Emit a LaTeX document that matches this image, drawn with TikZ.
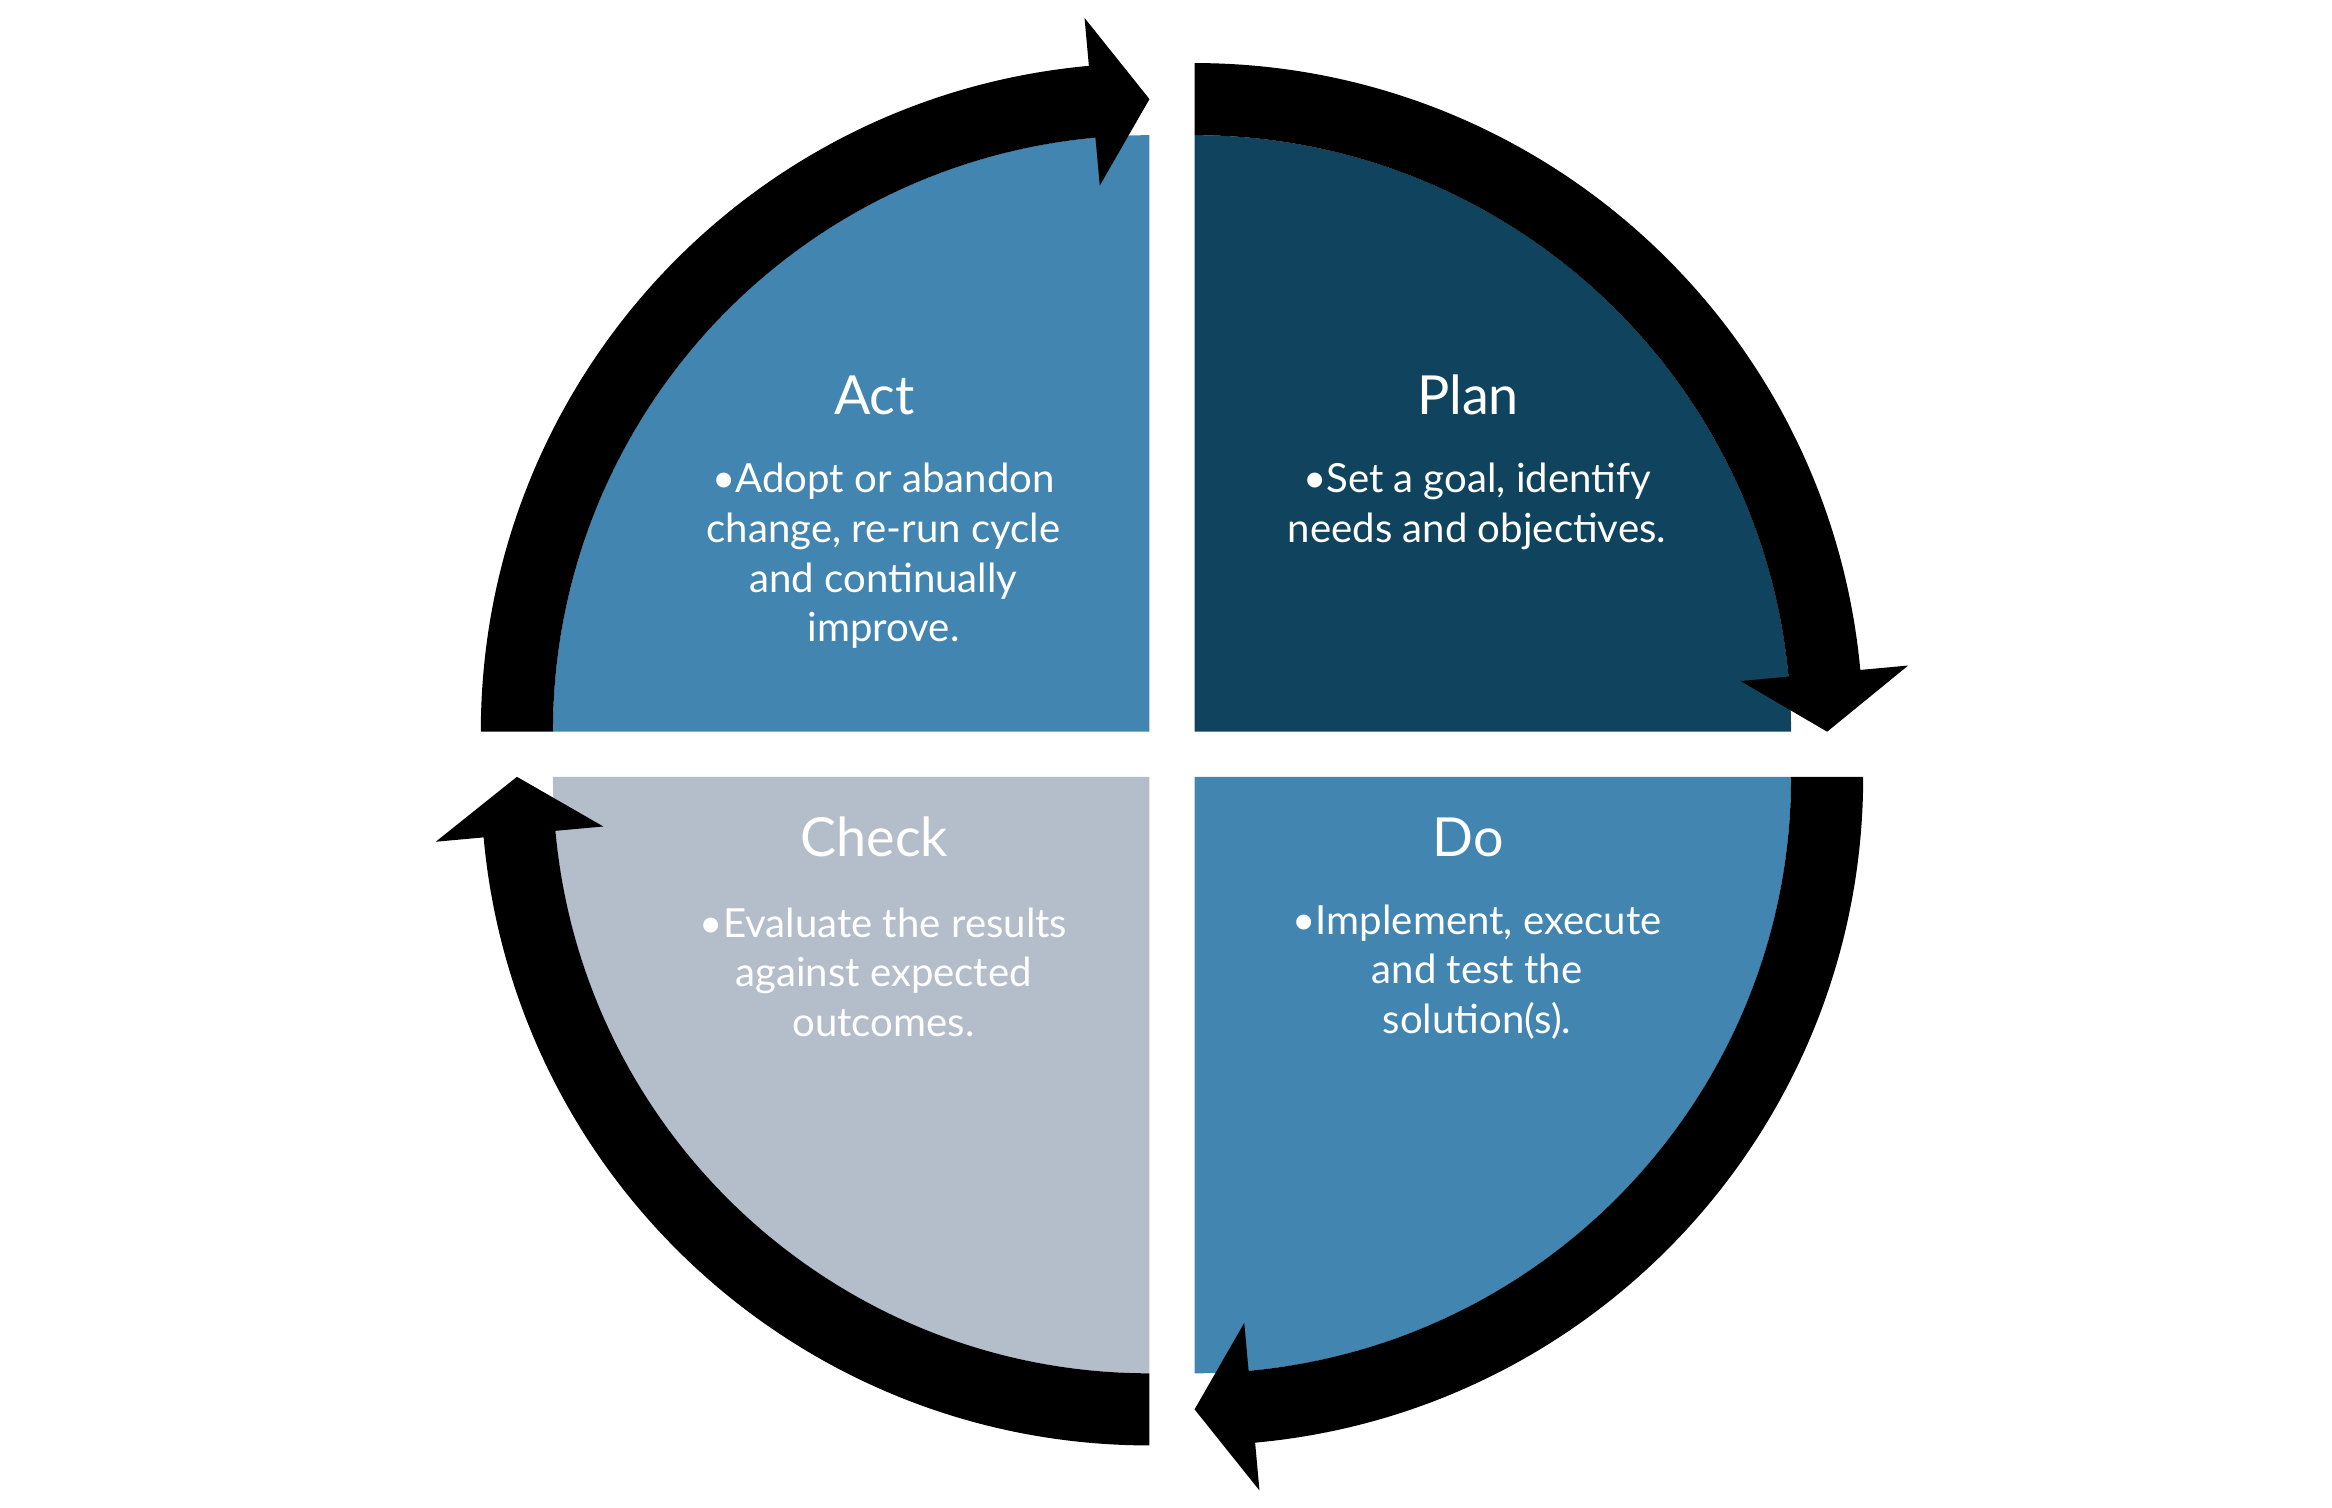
\documentclass[tikz,border=0pt]{standalone}
\usepackage{fontspec}
\setmainfont{Lato}
\usetikzlibrary{positioning}

\definecolor{plancol}{HTML}{10445E}
\definecolor{actcol}{HTML}{4285B0}
\definecolor{checkcol}{HTML}{B3BECA}

\tikzset{
  title/.style={text=white, font=\fontsize{10.2}{12}\selectfont},
  body/.style={text=white, align=center, font=\fontsize{7.6}{9.4}\selectfont},
  cyc/.style={fill=black}
}

\begin{document}
\begin{tikzpicture}

    \useasboundingbox (0,0) rectangle (15.52,10.03);

    % Corners of the four quarters
    \coordinate (P) at (7.95,5.16);
    \coordinate (A) at (7.65,5.16);
    \coordinate (D) at (7.95,4.86);
    \coordinate (C) at (7.65,4.86);

    % Quarters
    \fill[plancol] (P) -- ++(0,3.97) arc (90:0:3.97) -- cycle;
    \fill[actcol] (A) -- ++(-3.97,0) arc (180:90:3.97) -- cycle;
    \fill[actcol] (D) -- ++(3.97,0) arc (0:-90:3.97) -- cycle;
    \fill[checkcol] (C) -- ++(0,-3.97) arc (270:180:3.97) -- cycle;

    % Cycle arrows
    \fill[cyc, shift={(P)}] (90:4.45) arc (90:5.3:4.45) -- (5.3:4.77) -- (0:4.21)
        -- (5.3:3.65) -- (5.3:3.97) arc (5.3:90:3.97) -- cycle;
    \fill[cyc, shift={(D)}] (0:4.45) arc (0:-84.8:4.45) -- (-84.8:4.77) -- (-90:4.21)
        -- (-84.8:3.65) -- (-84.8:3.97) arc (-84.8:0:3.97) -- cycle;
    \fill[cyc, shift={(C)}] (-90:4.45) arc (-90:-174.8:4.45) -- (-174.8:4.77) -- (180:4.21)
        -- (-174.8:3.65) -- (-174.8:3.97) arc (-174.8:-90:3.97) -- cycle;
    \fill[cyc, shift={(A)}] (180:4.45) arc (180:95.2:4.45) -- (95.2:4.77) -- (90:4.21)
        -- (95.2:3.65) -- (95.2:3.97) arc (95.2:180:3.97) -- cycle;

    % Labels
    \node[title] (plan) at (9.77,7.40) {Plan};
    \node[body] (planb) at (9.83,6.66) {•Set a goal, identify\\needs and objectives.};

    \node[title] (act) at (5.82,7.40) {Act};
    \node[body] (actb) at (5.88,6.33) {•Adopt or abandon\\change, re-run cycle\\and continually\\improve.};

    \node[title] (do) at (9.77,4.46) {Do};
    \node[body] (dob) at (9.83,3.56) {•Implement, execute\\and test the\\solution(s).};

    \node[title] (check) at (5.82,4.46) {Check};
    \node[body] (checkb) at (5.88,3.56) {•Evaluate the results\\against expected\\outcomes.};

\end{tikzpicture}
\end{document}
